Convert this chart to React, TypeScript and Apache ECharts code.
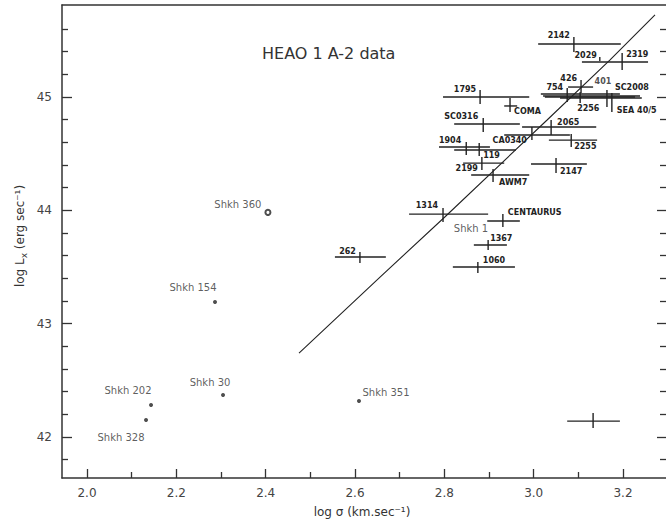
import React, { useEffect, useRef } from "react";
import * as echarts from "echarts";

// ---- axis ticks ----
const xMajorTicks = [2.0, 2.2, 2.4, 2.6, 2.8, 3.0, 3.2];
const xMinorTicks = [2.1, 2.3, 2.5, 2.7, 2.9, 3.1];
const yMajorTicks = [42, 43, 44, 45];
const yMinorTicks = [41.8, 42.2, 42.4, 42.6, 42.8, 43.2, 43.4, 43.6, 43.8, 44.2, 44.4, 44.6, 44.8, 45.2, 45.4, 45.6];

// ---- HEAO 1 A-2 clusters (log sigma, log Lx, with error ranges) ----
const clusterNames = ["2142", "2319", "2029", "426", "754", "2256", "SC2008", "SEA 40/5", "1795", "COMA", "SC0316", "2065", "CA0340", "2255", "1904", "119", "2199", "AWM7", "2147", "1314", "CENTAURUS", "1367", "1060", "262", ""];
const clusterLogSigma = [3.090, 3.198, 3.148, 3.106, 3.075, 3.104, 3.164, 3.175, 2.880, 2.947, 2.887, 3.039, 2.996, 3.084, 2.849, 2.878, 2.884, 2.909, 3.050, 2.797, 2.931, 2.898, 2.875, 2.611, 3.133];
const clusterLogLx = [45.468, 45.309, 45.335, 45.088, 45.026, 45.000, 45.009, 44.991, 45.000, 44.921, 44.762, 44.735, 44.665, 44.620, 44.559, 44.532, 44.417, 44.312, 44.409, 43.967, 43.906, 43.694, 43.500, 43.588, 42.140];
const sigmaLow = [3.010, 3.108, 3.148, 3.077, 3.016, 3.025, 3.021, 3.059, 2.797, 2.934, 2.822, 2.974, 2.934, 3.034, 2.788, 2.822, 2.842, 2.860, 2.994, 2.721, 2.896, 2.866, 2.819, 2.555, 3.075];
const sigmaHigh = [3.195, 3.256, 3.148, 3.133, 3.193, 3.227, 3.238, 3.242, 2.990, 2.963, 2.969, 3.140, 3.081, 3.142, 2.902, 2.960, 2.934, 2.990, 3.119, 2.898, 2.969, 2.940, 2.958, 2.669, 3.193];
const lxLow = [45.397, 45.238, 45.318, 45.035, 44.956, 44.947, 44.912, 44.868, 44.938, 44.868, 44.691, 44.665, 44.620, 44.559, 44.488, 44.479, 44.356, 44.250, 44.329, 43.897, 43.853, 43.650, 43.447, 43.535, 42.079];
const lxHigh = [45.530, 45.388, 45.353, 45.150, 45.079, 45.044, 45.062, 45.035, 45.062, 44.991, 44.815, 44.797, 44.735, 44.673, 44.603, 44.594, 44.470, 44.365, 44.462, 44.020, 43.967, 43.738, 43.544, 43.632, 42.211];

// ---- Shakhbazian compact groups ----
const shkhNames = ["Shkh 360", "Shkh 154", "Shkh 30", "Shkh 202", "Shkh 328", "Shkh 351"];
const shkhLogSigma = [2.405, 2.2865, 2.3045, 2.1433, 2.1321, 2.6089];
const shkhLogLx = [43.982, 43.191, 42.370, 42.282, 42.149, 42.317];

// ---- loose annotations ----
const noteTexts = ["401", "Shkh 1"];
const noteLogSigma = [3.155, 2.8596];
const noteLogLx = [45.141, 43.844];

// ---- fitted relation drawn on the figure ----
const fitLogSigma = [2.4746, 2.656, 2.801, 3.030, 3.171, 3.2716];
const fitLogLx = [42.74, 43.411, 43.941, 44.797, 45.327, 45.724];

// ---- layout (label placement, px) ----
const clusterLabelLayout: [number, number, string][] = [
  [-4, -8, "right"], [4, -8, "left"], [-3, -4, "right"], [-4, -9, "right"], [-4, -7, "right"],
  [-3, 11, "left"], [8, -8, "left"], [5, 12, "left"], [-4, -8, "right"], [4, 6, "left"],
  [-5, -7, "right"], [6, -5, "left"], [-5, 6, "right"], [3, 6, "left"], [-5, -6, "right"],
  [4, 5, "left"], [-4, 5, "right"], [6, 8, "left"], [4, 8, "left"], [-5, -9, "right"],
  [5, -8, "left"], [2, -7, "left"], [5, -6, "left"], [-4, -6, "right"], [0, 0, "left"],
];
const shkhLabelLayout: [number, number][] = [[-30, -8], [-22, -15], [-13, -13], [-23, -15], [-25, 17], [27, -9]];

const INK = "#222";
const FONT = '"DejaVu Sans", "Liberation Sans", sans-serif';

export default function App() {
  const ref = useRef<HTMLDivElement>(null);
  useEffect(() => {
    if (!ref.current) return;
    const chart = echarts.init(ref.current, undefined, { renderer: "svg" });
    const xMin = 1.944, xMax = 3.2962, yMin = 41.638, yMax = 45.812;
    const axisBase = { type: "value", min: xMin, max: xMax, splitLine: { show: false } };
    const yBase = { type: "value", min: yMin, max: yMax, splitLine: { show: false } };

    const crossData = clusterNames.map((n, i) => [clusterLogSigma[i], clusterLogLx[i], sigmaLow[i], sigmaHigh[i], lxLow[i], lxHigh[i]]);

    chart.setOption({
      animation: false,
      backgroundColor: "#fff",
      grid: { left: 62, right: 0, top: 5, bottom: 47 },
      xAxis: [
        {
          ...axisBase, position: "bottom",
          axisLine: { show: true, lineStyle: { color: "#333", width: 1.5 } },
          axisTick: { show: true, inside: true, length: 9, customValues: xMajorTicks, lineStyle: { color: "#333", width: 1.3 } },
          axisLabel: { show: true, customValues: xMajorTicks, formatter: (v: number) => v.toFixed(1), margin: 9, color: "#444", fontSize: 12, fontFamily: FONT },
        },
        {
          ...axisBase, position: "bottom",
          axisLine: { show: false },
          axisTick: { show: true, inside: true, length: 6, customValues: xMinorTicks, lineStyle: { color: "#333", width: 1.3 } },
          axisLabel: { show: false },
        },
        {
          ...axisBase, position: "top",
          axisLine: { show: true, lineStyle: { color: "#333", width: 1.5 } },
          axisTick: { show: false }, axisLabel: { show: false },
        },
      ],
      yAxis: [
        {
          ...yBase, position: "left",
          axisLine: { show: true, lineStyle: { color: "#333", width: 1.5 } },
          axisTick: { show: true, inside: true, length: 10, customValues: yMajorTicks, lineStyle: { color: "#333", width: 1.3 } },
          axisLabel: { show: true, customValues: yMajorTicks, formatter: (v: number) => String(v), margin: 10, color: "#444", fontSize: 12, fontFamily: FONT },
        },
        {
          ...yBase, position: "left",
          axisLine: { show: false },
          axisTick: { show: true, inside: true, length: 6, customValues: yMinorTicks, lineStyle: { color: "#333", width: 1.3 } },
          axisLabel: { show: false },
        },
        {
          ...yBase, position: "right",
          axisLine: { show: false },
          axisTick: { show: true, inside: true, length: 9, customValues: yMajorTicks, lineStyle: { color: "#333", width: 1.3 } },
          axisLabel: { show: false },
        },
        {
          ...yBase, position: "right",
          axisLine: { show: false },
          axisTick: { show: true, inside: true, length: 6, customValues: yMinorTicks, lineStyle: { color: "#333", width: 1.3 } },
          axisLabel: { show: false },
        },
      ],
      graphic: [
        {
          type: "text", x: 262, y: 53,
          style: { text: "HEAO 1 A-2 data", font: `16px ${FONT}`, fill: "#333", align: "left", verticalAlign: "middle", textAlign: "left", textVerticalAlign: "middle" },
        },
        {
          type: "text", x: 362, y: 512,
          style: { text: "log σ (km.sec⁻¹)", font: `12px ${FONT}`, fill: "#333", align: "center", verticalAlign: "middle", textAlign: "center", textVerticalAlign: "middle" },
        },
        {
          type: "text", x: 21, y: 236, rotation: Math.PI / 2,
          style: {
            text: "{a|log L}{b|x}{a| (erg sec⁻¹)}",
            rich: {
              a: { font: `12px ${FONT}`, fill: "#333", padding: [0, 0, 3, 0], verticalAlign: "bottom" },
              b: { font: `9px ${FONT}`, fill: "#333", verticalAlign: "bottom" },
            },
            align: "center", verticalAlign: "middle", textAlign: "center", textVerticalAlign: "middle",
          },
        },
      ],
      series: [
        {
          type: "line",
          xAxisIndex: 0, yAxisIndex: 0,
          data: fitLogSigma.map((x, i) => [x, fitLogLx[i]]),
          showSymbol: false, symbol: "none",
          lineStyle: { color: INK, width: 1.1 },
          z: 2,
        },
        {
          type: "custom",
          xAxisIndex: 0, yAxisIndex: 0,
          data: crossData,
          encode: { x: [0, 2, 3], y: [1, 4, 5] },
          z: 3,
          renderItem: (params: any, api: any) => {
            const i = params.dataIndex;
            const c = api.coord([api.value(0), api.value(1)]);
            const xl = api.coord([api.value(2), api.value(1)]);
            const xh = api.coord([api.value(3), api.value(1)]);
            const yl = api.coord([api.value(0), api.value(4)]);
            const yh = api.coord([api.value(0), api.value(5)]);
            const children: any[] = [];
            if (xh[0] - xl[0] > 0.5) {
              children.push({ type: "line", shape: { x1: xl[0], y1: c[1], x2: xh[0], y2: c[1] }, style: { stroke: INK, lineWidth: 1.4 } });
            }
            children.push({ type: "line", shape: { x1: c[0], y1: yl[1], x2: c[0], y2: yh[1] }, style: { stroke: INK, lineWidth: 1.4 } });
            const lay = clusterLabelLayout[i];
            if (clusterNames[i]) {
              children.push({
                type: "text", x: c[0] + lay[0], y: c[1] + lay[1],
                style: { text: clusterNames[i], font: `bold 8px ${FONT}`, fill: INK, align: lay[2], verticalAlign: "middle", textAlign: lay[2], textVerticalAlign: "middle" },
              });
            }
            return { type: "group", children };
          },
        },
        {
          type: "scatter",
          xAxisIndex: 0, yAxisIndex: 0,
          z: 4,
          symbolSize: 4,
          itemStyle: { color: INK },
          label: { show: true, position: "inside", formatter: "{b}", fontSize: 10, color: "#333", fontFamily: FONT },
          data: shkhNames.map((n, i) => ({
            name: n,
            value: [shkhLogSigma[i], shkhLogLx[i]],
            symbol: i === 0 ? "emptyCircle" : "circle",
            symbolSize: i === 0 ? 5 : 4,
            itemStyle: i === 0 ? { color: INK, borderColor: INK, borderWidth: 1.2 } : undefined,
            label: { offset: shkhLabelLayout[i] },
          })),
        },
        {
          type: "scatter",
          xAxisIndex: 0, yAxisIndex: 0,
          z: 4,
          symbolSize: 0,
          label: { show: true, position: "inside", formatter: "{b}", color: "#222", fontFamily: FONT },
          data: noteTexts.map((t, i) => ({
            name: t,
            value: [noteLogSigma[i], noteLogLx[i]],
            label: i === 0 ? { fontSize: 8, fontWeight: "bold", color: "#222" } : { fontSize: 10, color: "#333" },
          })),
        },
      ],
    });
    return () => chart.dispose();
  }, []);
  return <div ref={ref} style={{ position: "fixed", left: 0, top: 0, width: 666, height: 525, background: "#fff" }} />;
}
